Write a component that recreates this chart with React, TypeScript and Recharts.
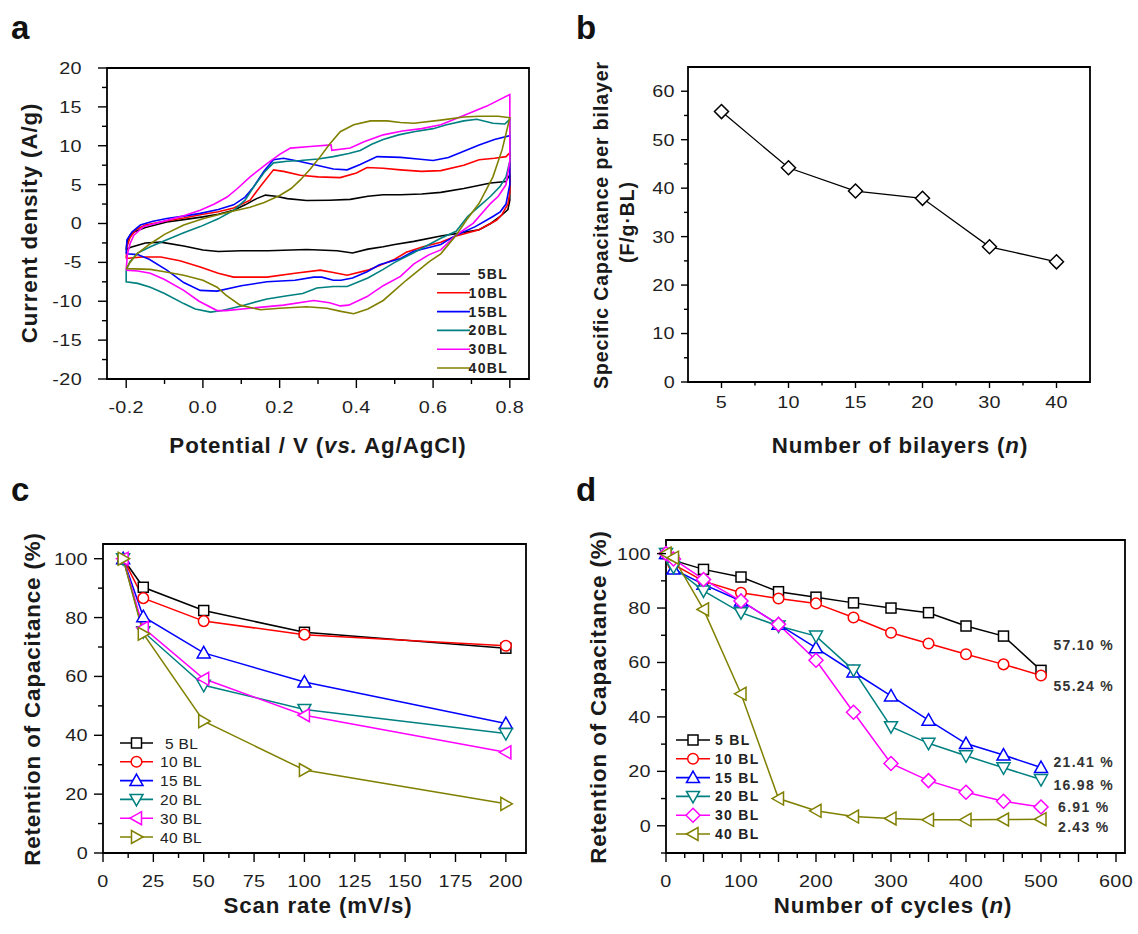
import React from "react";
import { LineChart, Line, XAxis, YAxis, ReferenceArea, ReferenceDot, Legend } from "recharts";

const FONT = '"Liberation Sans", Arial, Helvetica, sans-serif';
const W = 1138;
const H = 934;

const seriesColors = ["#000000", "#ff0000", "#0000ff", "#008080", "#ff00ff", "#808000"];

// ---------- panel a: CV loops, [potential (V), current density (A/g)]
const cvNames = ["5BL", "10BL", "15BL", "20BL", "30BL", "40BL"];

const cv5BL: [number, number][] = [
  [-0.2, -3.4], [-0.198, -2.4], [-0.19, -1.5], [-0.18, -1.1], [-0.15, -0.5], [-0.094, 0.2], [-0.05, 0.5],
  [0, 0.85], [0.04, 1.2], [0.08, 1.7], [0.11, 2.4], [0.14, 3.2], [0.163, 3.65], [0.19, 3.5], [0.22, 3.2],
  [0.27, 2.95], [0.33, 3.0], [0.384, 3.1], [0.43, 3.5], [0.47, 3.7], [0.515, 3.7], [0.57, 3.8], [0.62, 4.0],
  [0.68, 4.5], [0.75, 5.2], [0.79, 5.4], [0.8, 6.3],
  [0.8, 3.0], [0.795, 1.8], [0.775, 0.9], [0.75, 0], [0.72, -0.8], [0.66, -1.3], [0.62, -1.6], [0.55, -2.3],
  [0.5, -2.7], [0.47, -3.0], [0.43, -3.3], [0.39, -3.8], [0.35, -3.5], [0.27, -3.35], [0.17, -3.5], [0.1, -3.5],
  [0.04, -3.6], [0, -3.4], [-0.05, -2.9], [-0.11, -2.4], [-0.15, -2.5], [-0.19, -3.1], [-0.2, -3.4],
];

const cv10BL: [number, number][] = [
  [-0.2, -4.5], [-0.198, -3.0], [-0.19, -1.8], [-0.175, -0.8], [-0.15, -0.2], [-0.1, 0.3], [-0.05, 0.7],
  [0, 1.2], [0.04, 1.5], [0.08, 2.0], [0.123, 3.0], [0.15, 4.8], [0.184, 6.9], [0.21, 6.7], [0.254, 6.2],
  [0.3, 6.0], [0.358, 5.9], [0.4, 6.5], [0.428, 7.2], [0.47, 7.1], [0.515, 6.9], [0.57, 6.7], [0.62, 6.8],
  [0.68, 7.5], [0.72, 8.2], [0.76, 8.4], [0.79, 8.6], [0.8, 9.1],
  [0.8, 4.0], [0.795, 2.5], [0.78, 1.2], [0.766, 0.45], [0.72, -0.8], [0.66, -1.6], [0.62, -2.4], [0.574, -3.0],
  [0.53, -3.7], [0.5, -4.6], [0.47, -5.2], [0.43, -6.0], [0.376, -6.65], [0.34, -6.3], [0.306, -6.0],
  [0.24, -6.4], [0.167, -6.9], [0.08, -6.9], [0.04, -6.4], [-0.007, -5.6], [-0.06, -4.8], [-0.11, -4.3],
  [-0.16, -4.3], [-0.2, -4.5],
];

const cv15BL: [number, number][] = [
  [-0.2, -3.9], [-0.198, -2.1], [-0.185, -1.1], [-0.163, -0.2], [-0.13, 0.3], [-0.094, 0.64], [-0.05, 0.95],
  [-0.007, 1.3], [0.04, 1.8], [0.08, 2.4], [0.11, 3.4], [0.132, 4.7], [0.16, 6.8], [0.184, 8.2], [0.21, 8.4],
  [0.25, 8.0], [0.297, 7.5], [0.34, 7.0], [0.376, 6.9], [0.41, 7.6], [0.454, 8.6], [0.515, 8.5], [0.56, 8.3],
  [0.6, 8.1], [0.64, 8.5], [0.68, 9.3], [0.72, 10.1], [0.76, 10.8], [0.8, 11.3],
  [0.8, 5.0], [0.79, 2.5], [0.775, 1.5], [0.756, 0.9], [0.71, -0.4], [0.66, -1.5], [0.62, -2.7], [0.548, -3.6],
  [0.515, -4.5], [0.46, -5.3], [0.428, -6.2], [0.39, -7.0], [0.36, -7.3], [0.34, -7.3], [0.31, -6.9],
  [0.289, -6.9], [0.24, -7.3], [0.167, -7.5], [0.1, -8.0], [0.037, -8.7], [-0.007, -8.6], [-0.05, -7.6],
  [-0.094, -6.0], [-0.14, -4.6], [-0.17, -4.0], [-0.2, -3.9],
];

const cv20BL: [number, number][] = [
  [-0.2, -6.0], [-0.19, -4.9], [-0.17, -3.8], [-0.137, -3.0], [-0.094, -2.1], [-0.05, -1.2], [-0.007, -0.4],
  [0.04, 0.6], [0.08, 1.7], [0.11, 3.0], [0.132, 4.7], [0.16, 6.6], [0.184, 7.8], [0.22, 8.0], [0.254, 8.1],
  [0.3, 8.3], [0.34, 8.6], [0.38, 9.0], [0.41, 9.4], [0.44, 10.2], [0.47, 10.8], [0.51, 11.4], [0.55, 11.8],
  [0.6, 12.2], [0.635, 12.7], [0.68, 13.2], [0.714, 13.4], [0.756, 12.9], [0.787, 12.8], [0.8, 13.4],
  [0.8, 8.0], [0.79, 6.0], [0.775, 4.8], [0.75, 3.5], [0.72, 2.2], [0.69, 0.9], [0.66, -1.0], [0.62, -1.9],
  [0.548, -3.8], [0.5, -5.0], [0.47, -5.9], [0.43, -7.0], [0.376, -8.1], [0.34, -8.1], [0.297, -8.3],
  [0.26, -9.0], [0.22, -9.3], [0.167, -9.7], [0.1, -10.6], [0.05, -11.2], [0.02, -11.4], [-0.02, -11.0],
  [-0.05, -10.3], [-0.1, -9.0], [-0.137, -8.2], [-0.17, -7.7], [-0.2, -7.5], [-0.2, -6.0],
];

const cv30BL: [number, number][] = [
  [-0.2, -6.0], [-0.197, -4.0], [-0.19, -2.6], [-0.18, -1.5], [-0.155, -0.4], [-0.094, 0.4], [-0.05, 1.0],
  [-0.007, 1.7], [0.03, 2.5], [0.063, 3.4], [0.09, 4.5], [0.123, 6.0], [0.167, 7.7], [0.2, 8.9], [0.228, 9.7],
  [0.28, 9.9], [0.334, 10.1], [0.336, 9.4], [0.384, 9.7], [0.42, 10.5], [0.47, 11.4], [0.52, 11.9],
  [0.57, 12.2], [0.62, 12.7], [0.68, 13.9], [0.74, 15.1], [0.8, 16.6],
  [0.8, 8.0], [0.79, 5.0], [0.77, 3.5], [0.75, 2.6], [0.705, 0.05], [0.66, -1.5], [0.62, -3.4], [0.59, -4.0],
  [0.55, -5.2], [0.515, -6.8], [0.47, -8.0], [0.428, -9.4], [0.38, -10.5], [0.358, -10.6], [0.33, -10.2],
  [0.289, -9.9], [0.21, -10.5], [0.123, -10.9], [0.06, -11.2], [0.037, -11.2], [-0.01, -10.0], [-0.05, -8.6],
  [-0.1, -7.2], [-0.137, -6.4], [-0.17, -6.1], [-0.2, -6.0],
];

const cv40BL: [number, number][] = [
  [-0.2, -5.8], [-0.19, -5.0], [-0.172, -3.9], [-0.137, -2.6], [-0.1, -1.4], [-0.05, -0.2], [0, 0.6],
  [0.037, 1.1], [0.08, 1.6], [0.123, 2.1], [0.16, 2.7], [0.2, 3.6], [0.23, 4.5], [0.254, 5.6], [0.28, 7.0],
  [0.306, 8.6], [0.33, 10.2], [0.358, 11.8], [0.393, 12.7], [0.437, 13.2], [0.48, 13.2], [0.515, 13.0],
  [0.55, 12.9], [0.62, 13.3], [0.68, 13.7], [0.72, 13.8], [0.77, 13.8], [0.8, 13.6],
  [0.78, 9.5], [0.756, 6.0], [0.72, 2.6], [0.687, 0.45], [0.66, -1.5], [0.62, -3.9], [0.59, -4.9],
  [0.53, -7.3], [0.47, -9.9], [0.43, -11.0], [0.393, -11.6], [0.36, -11.3], [0.323, -10.9], [0.27, -10.7],
  [0.2, -10.9], [0.15, -11.1], [0.097, -10.5], [0.06, -9.2], [0.037, -8.2], [0, -7.3], [-0.05, -6.65],
  [-0.1, -6.2], [-0.137, -5.9], [-0.2, -5.8],
];

const cvLoops = [cv5BL, cv10BL, cv15BL, cv20BL, cv30BL, cv40BL];
const potentialTicks = [-0.2, 0, 0.2, 0.4, 0.6, 0.8];
const currentTicks = [-20, -15, -10, -5, 0, 5, 10, 15, 20];

// ---------- panel b
const bilayerLabels = ["5", "10", "15", "20", "30", "40"];
const capPerBilayer = [55.8, 44.2, 39.4, 37.9, 27.9, 24.8];
const capTicks = [0, 10, 20, 30, 40, 50, 60];

// ---------- panel c
const scanNames = ["5 BL", "10 BL", "15 BL", "20 BL", "30 BL", "40 BL"];
const scanRates = [10, 20, 50, 100, 200];
const rate5BL = [100, 90.3, 82.4, 75.0, 69.6];
const rate10BL = [100, 86.6, 78.8, 74.2, 70.4];
const rate15BL = [100, 80.3, 68.0, 58.1, 44.0];
const rate20BL = [100, 75.2, 57.0, 48.8, 40.6];
const rate30BL = [100, 76.5, 59.2, 46.8, 34.2];
const rate40BL = [100, 74.5, 44.8, 28.2, 16.7];
const rateTicks = [0, 25, 50, 75, 100, 125, 150, 175, 200];
const retentionTicks = [0, 20, 40, 60, 80, 100];

// ---------- panel d
const cycles = [0, 10, 50, 100, 150, 200, 250, 300, 350, 400, 450, 500];
const cyc5BL = [100, 97.5, 94.2, 91.4, 86.0, 84.0, 81.9, 80.0, 78.3, 73.4, 69.7, 57.1];
const cyc10BL = [100, 96.0, 89.9, 85.6, 83.5, 81.7, 76.5, 70.9, 67.0, 63.0, 59.3, 55.24];
const cyc15BL = [100, 94.3, 88.7, 82.6, 74.0, 65.4, 56.5, 47.7, 38.8, 30.2, 26.0, 21.41];
const cyc20BL = [100, 95.0, 86.3, 78.3, 73.4, 69.7, 57.2, 36.4, 30.3, 25.7, 21.3, 16.98];
const cyc30BL = [100, 98.0, 90.5, 82.6, 74.0, 60.8, 41.7, 22.9, 16.6, 12.3, 9.0, 6.91];
const cyc40BL = [100, 98.5, 79.5, 48.5, 10.0, 5.5, 3.4, 2.7, 2.2, 2.2, 2.3, 2.43];
const cycleTicks = [0, 100, 200, 300, 400, 500, 600];
const endLabels = ["57.10 %", "55.24 %", "21.41 %", "16.98 %", "6.91 %", "2.43 %"];
const endLabelY = [66.3, 51.3, 23.4, 14.9, 6.9, -0.4];

// ---------- helpers
const near = (v: number, step: number) => Math.abs(v / step - Math.round(v / step)) < 1e-6;

function withMinor(major: number[], parts = 2) {
  const out = [...major];
  for (let i = 0; i < major.length - 1; i++) {
    for (let k = 1; k < parts; k++) out.push(major[i] + ((major[i + 1] - major[i]) * k) / parts);
  }
  return out.sort((a, b) => a - b);
}

type AxisStyle = { major: number; minor: number; gap: number; size: number };
const TICK_STRETCH = 1.2; // the source figure's digits are set wide

function bottomTick(isMajor: (v: number) => boolean, label: (v: number) => string | null, st: AxisStyle) {
  return (props: any) => {
    const { x, y, payload } = props;
    const v = payload.value as number;
    const text = label(v);
    return (
      <g>
        <line x1={x} x2={x} y1={y} y2={y + (isMajor(v) ? st.major : st.minor)} stroke="#000" strokeWidth={1.4} />
        {text !== null && (
          <text transform={`translate(${x},${y + st.gap}) scale(${TICK_STRETCH},1)`} textAnchor="middle"
            fontFamily={FONT} fontSize={st.size} letterSpacing={0.3} fill="#1f1f1f">
            {text}
          </text>
        )}
      </g>
    );
  };
}

function leftTick(isMajor: (v: number) => boolean, label: (v: number) => string | null, st: AxisStyle) {
  return (props: any) => {
    const { x, y, payload } = props;
    const v = payload.value as number;
    const text = label(v);
    return (
      <g>
        <line x1={x} x2={x - (isMajor(v) ? st.major : st.minor)} y1={y} y2={y} stroke="#000" strokeWidth={1.4} />
        {text !== null && (
          <text transform={`translate(${x - st.gap},${y + st.size * 0.36}) scale(${TICK_STRETCH},1)`} textAnchor="end"
            fontFamily={FONT} fontSize={st.size} letterSpacing={0.3} fill="#1f1f1f">
            {text}
          </text>
        )}
      </g>
    );
  };
}

type Shape = "square" | "circle" | "up" | "down" | "left" | "right" | "diamond";

function Marker({ cx, cy, shape, color, s = 1 }: { cx: number; cy: number; shape: Shape; color: string; s?: number }) {
  const p = { fill: "#fff", stroke: color, strokeWidth: 1.5 };
  if (shape === "square") return <rect x={cx - 5 * s} y={cy - 5 * s} width={10 * s} height={10 * s} {...p} />;
  if (shape === "circle") return <circle cx={cx} cy={cy} r={5.3 * s} {...p} />;
  const a = 6.5 * s;
  const b = 5 * s;
  let pts = "";
  if (shape === "up") pts = `${cx},${cy - a} ${cx + a},${cy + b} ${cx - a},${cy + b}`;
  if (shape === "down") pts = `${cx},${cy + a} ${cx + a},${cy - b} ${cx - a},${cy - b}`;
  if (shape === "left") pts = `${cx - a},${cy} ${cx + b},${cy - a} ${cx + b},${cy + a}`;
  if (shape === "right") pts = `${cx + a},${cy} ${cx - b},${cy - a} ${cx - b},${cy + a}`;
  if (shape === "diamond") pts = `${cx},${cy - 7 * s} ${cx + 7 * s},${cy} ${cx},${cy + 7 * s} ${cx - 7 * s},${cy}`;
  return <polygon points={pts} {...p} />;
}

const shapesC: Shape[] = ["square", "circle", "up", "down", "left", "right"];
const shapesD: Shape[] = ["square", "circle", "up", "down", "diamond", "left"];

const frameProps = { stroke: "#000", strokeWidth: 1.8, fill: "#fff", fillOpacity: 0 };
const abs: React.CSSProperties = { position: "absolute", left: 0, top: 0 };

// plot-box margins; axes are 1px wide/high, so they are taken off left/bottom
const box = (left: number, top: number, right: number, bottom: number) => ({
  top,
  left: left - 1,
  right: W - right,
  bottom: H - bottom - 1,
});

function legendBox(names: string[], shapes: Shape[] | null, o: { w: number; h: number; step: number; x1: number; x2: number; tx: number; anchor: "start" | "end"; size: number; bold: boolean }) {
  return () => (
    <svg width={o.w} height={o.h} style={{ display: "block", overflow: "visible" }}>
      {names.map((n, i) => {
        const y = 10 + i * o.step;
        return (
          <g key={n}>
            <line x1={o.x1} x2={o.x2} y1={y} y2={y} stroke={seriesColors[i]} strokeWidth={1.6} />
            {shapes && <Marker cx={(o.x1 + o.x2) / 2} cy={y} shape={shapes[i]} color={seriesColors[i]} />}
            <text
              x={o.tx + (shapes && !o.bold && n.length < 5 ? 5 : 0)}
              y={y + o.size * 0.36}
              textAnchor={o.anchor}
              fontFamily={FONT}
              fontSize={o.size}
              fontWeight={o.bold ? "bold" : "normal"}
              letterSpacing={o.bold ? 1.3 : 0.3}
              fill="#222"
            >
              {n}
            </text>
          </g>
        );
      })}
    </svg>
  );
}

const axisCommon = { interval: 0 as const, tickSize: 0, tickMargin: 0, axisLine: false, tickLine: false };

// ---------- panels
function PanelA() {
  const xt = withMinor(potentialTicks);
  const yt = withMinor(currentTicks);
  const st: AxisStyle = { major: 9, minor: 5, gap: 34, size: 16.5 };
  const sty: AxisStyle = { major: 9, minor: 5, gap: 25, size: 16.5 };
  return (
    <div style={abs}>
      <LineChart width={W} height={H} margin={box(107, 68, 529, 379)}>
        <XAxis type="number" dataKey="v" domain={[-0.25, 0.85]} ticks={xt} height={1} {...axisCommon}
          tick={bottomTick((v) => near(v, 0.2), (v) => (near(v, 0.2) ? v.toFixed(1) : null), st)} />
        <YAxis type="number" domain={[-20, 20]} ticks={yt} width={1} {...axisCommon}
          tick={leftTick((v) => near(v, 5), (v) => (near(v, 5) ? String(v) : null), sty)} />
        <ReferenceArea x1={-0.25} x2={0.85} y1={-20} y2={20} {...frameProps} />
        {cvLoops.map((loop, i) => (
          <Line key={cvNames[i]} name={cvNames[i]} data={loop.map(([v, c]) => ({ v, c }))} dataKey="c" type="linear"
            stroke={seriesColors[i]} strokeWidth={1.6} dot={false} isAnimationActive={false} />
        ))}
        <Legend layout="horizontal" verticalAlign="middle" align="center" wrapperStyle={{ left: 432, top: 264, width: 90, height: 120 }}
          content={legendBox(cvNames, null, { w: 90, h: 120, step: 18.8, x1: 5, x2: 38, tx: 76, anchor: "end", size: 14, bold: true })} />
      </LineChart>
    </div>
  );
}

function PanelB() {
  const data = bilayerLabels.map((l, i) => ({ pos: i + 1, cap: capPerBilayer[i] }));
  const xt = withMinor([1, 2, 3, 4, 5, 6]);
  const yt = withMinor(capTicks);
  const st: AxisStyle = { major: 6, minor: 3.5, gap: 26, size: 16.5 };
  const sty: AxisStyle = { major: 7, minor: 4, gap: 13, size: 16.5 };
  return (
    <div style={abs}>
      <LineChart width={W} height={H} data={data} margin={box(688, 67, 1090, 382)}>
        <XAxis type="number" dataKey="pos" domain={[0.5, 6.5]} ticks={xt} height={1} {...axisCommon}
          tick={bottomTick((v) => near(v, 1), (v) => (near(v, 1) ? bilayerLabels[Math.round(v) - 1] : null), st)} />
        <YAxis type="number" domain={[0, 65]} ticks={yt} width={1} {...axisCommon}
          tick={leftTick((v) => near(v, 10), (v) => (near(v, 10) ? String(v) : null), sty)} />
        <ReferenceArea x1={0.5} x2={6.5} y1={0} y2={65} {...frameProps} />
        <Line dataKey="cap" type="linear" stroke="#000" strokeWidth={1.3} isAnimationActive={false}
          dot={(p: any) => <Marker key={p.index} cx={p.cx} cy={p.cy} shape="diamond" color="#000" s={1.0} />} />
      </LineChart>
    </div>
  );
}

function PanelC() {
  const cols = [rate5BL, rate10BL, rate15BL, rate20BL, rate30BL, rate40BL];
  const data = scanRates.map((r, i) => {
    const row: Record<string, number> = { rate: r };
    cols.forEach((c, k) => (row["s" + k] = c[i]));
    return row;
  });
  const xt = withMinor(rateTicks);
  const yt = withMinor(retentionTicks);
  const st: AxisStyle = { major: 9, minor: 5, gap: 34, size: 16.5 };
  const sty: AxisStyle = { major: 9, minor: 5, gap: 15, size: 16.5 };
  return (
    <div style={abs}>
      <LineChart width={W} height={H} data={data} margin={box(103, 544, 526, 853)}>
        <XAxis type="number" dataKey="rate" domain={[0, 210]} ticks={xt} height={1} {...axisCommon}
          tick={bottomTick((v) => near(v, 25), (v) => (near(v, 25) ? String(v) : null), st)} />
        <YAxis type="number" domain={[0, 105]} ticks={yt} width={1} {...axisCommon}
          tick={leftTick((v) => near(v, 20), (v) => (near(v, 20) ? String(v) : null), sty)} />
        <ReferenceArea x1={0} x2={210} y1={0} y2={105} {...frameProps} />
        {cols.map((_, k) => (
          <Line key={k} name={scanNames[k]} dataKey={"s" + k} type="linear" stroke={seriesColors[k]} strokeWidth={1.5} isAnimationActive={false}
            dot={(p: any) => <Marker key={p.index} cx={p.cx} cy={p.cy} shape={shapesC[k]} color={seriesColors[k]} />} />
        ))}
        <Legend layout="horizontal" verticalAlign="middle" align="center" wrapperStyle={{ left: 112, top: 733, width: 110, height: 120 }}
          content={legendBox(scanNames, shapesC, { w: 110, h: 120, step: 18.8, x1: 8, x2: 41, tx: 48, anchor: "start", size: 15.5, bold: false })} />
      </LineChart>
    </div>
  );
}

function PanelD() {
  const cols = [cyc5BL, cyc10BL, cyc15BL, cyc20BL, cyc30BL, cyc40BL];
  const data = cycles.map((c, i) => {
    const row: Record<string, number> = { cyc: c };
    cols.forEach((s, k) => (row["s" + k] = s[i]));
    return row;
  });
  const xt = withMinor(cycleTicks, 4);
  const yt = withMinor(retentionTicks).concat([-10]);
  const st: AxisStyle = { major: 9, minor: 5, gap: 34, size: 16.5 };
  const sty: AxisStyle = { major: 9, minor: 5, gap: 15, size: 16.5 };
  return (
    <div style={abs}>
      <LineChart width={W} height={H} data={data} margin={box(666, 540, 1125, 853)}>
        <XAxis type="number" dataKey="cyc" domain={[0, 612]} ticks={xt} height={1} {...axisCommon}
          tick={bottomTick((v) => near(v, 50), (v) => (near(v, 100) ? String(v) : null), st)} />
        <YAxis type="number" domain={[-10, 105]} ticks={yt} width={1} {...axisCommon}
          tick={leftTick((v) => near(v, 20), (v) => (near(v, 20) ? String(v) : null), sty)} />
        <ReferenceArea x1={0} x2={612} y1={-10} y2={105} {...frameProps} />
        {cols.map((_, k) => (
          <Line key={k} name={scanNames[k]} dataKey={"s" + k} type="linear" stroke={seriesColors[k]} strokeWidth={1.5} isAnimationActive={false}
            dot={(p: any) => <Marker key={p.index} cx={p.cx} cy={p.cy} shape={shapesD[k]} color={seriesColors[k]} />} />
        ))}
        {endLabels.map((t, i) => (
          <ReferenceDot key={t} x={557} y={endLabelY[i]} r={0} fill="none" stroke="none"
            label={(p: any) => (
              <text x={p.viewBox.x + p.viewBox.width / 2} y={p.viewBox.y + p.viewBox.height / 2 + 5} textAnchor="middle"
                fontFamily={FONT} fontSize={14} fontWeight="bold" letterSpacing={1.3} fill="#333">
                {t}
              </text>
            )} />
        ))}
        <Legend layout="horizontal" verticalAlign="middle" align="center" wrapperStyle={{ left: 668, top: 730, width: 110, height: 120 }}
          content={legendBox(scanNames, shapesD, { w: 110, h: 120, step: 18.8, x1: 8, x2: 42, tx: 47, anchor: "start", size: 14, bold: true })} />
      </LineChart>
    </div>
  );
}

function Titles() {
  const t = { fontFamily: FONT, fontWeight: "bold" as const, fill: "#1a1a1a", letterSpacing: 0.9 };
  const size = 22.3;
  return (
    <svg width={W} height={H} style={{ ...abs, pointerEvents: "none" }}>
      <text x={11} y={39} fontFamily={FONT} fontWeight="bold" fontSize={33} fill="#111">a</text>
      <text x={576} y={39} fontFamily={FONT} fontWeight="bold" fontSize={33} fill="#111">b</text>
      <text x={11} y={501} fontFamily={FONT} fontWeight="bold" fontSize={33} fill="#111">c</text>
      <text x={576} y={501} fontFamily={FONT} fontWeight="bold" fontSize={33} fill="#111">d</text>

      <text {...t} fontSize={size} textAnchor="middle" transform="translate(37,223) rotate(-90)">Current density (A/g)</text>
      <text {...t} fontSize={size} textAnchor="middle" x={318} y={453}>
        Potential / V (<tspan fontStyle="italic">vs.</tspan> Ag/AgCl)
      </text>

      <text {...t} fontSize={19.5} textAnchor="middle" transform="translate(608,225) rotate(-90)">Specific Capacitance per bilayer</text>
      <text {...t} fontSize={19.5} textAnchor="middle" transform="translate(634,222) rotate(-90)">(F/g·BL)</text>
      <text {...t} fontSize={size} textAnchor="middle" x={900} y={453}>
        Number of bilayers (<tspan fontStyle="italic">n</tspan>)
      </text>

      <text {...t} fontSize={size} textAnchor="middle" transform="translate(40,699) rotate(-90)">Retention of Capacitance (%)</text>
      <text {...t} fontSize={size} textAnchor="middle" x={318} y={913}>Scan rate (mV/s)</text>

      <text {...t} fontSize={size} textAnchor="middle" transform="translate(606,697) rotate(-90)">Retention of Capacitance (%)</text>
      <text {...t} fontSize={size} textAnchor="middle" x={893} y={913}>
        Number of cycles (<tspan fontStyle="italic">n</tspan>)
      </text>
    </svg>
  );
}

export default function App() {
  return (
    <div style={{ position: "absolute", left: 0, top: 0, width: W, height: H, background: "#fff", overflow: "hidden" }}>
      <PanelA />
      <PanelB />
      <PanelC />
      <PanelD />
      <Titles />
    </div>
  );
}
